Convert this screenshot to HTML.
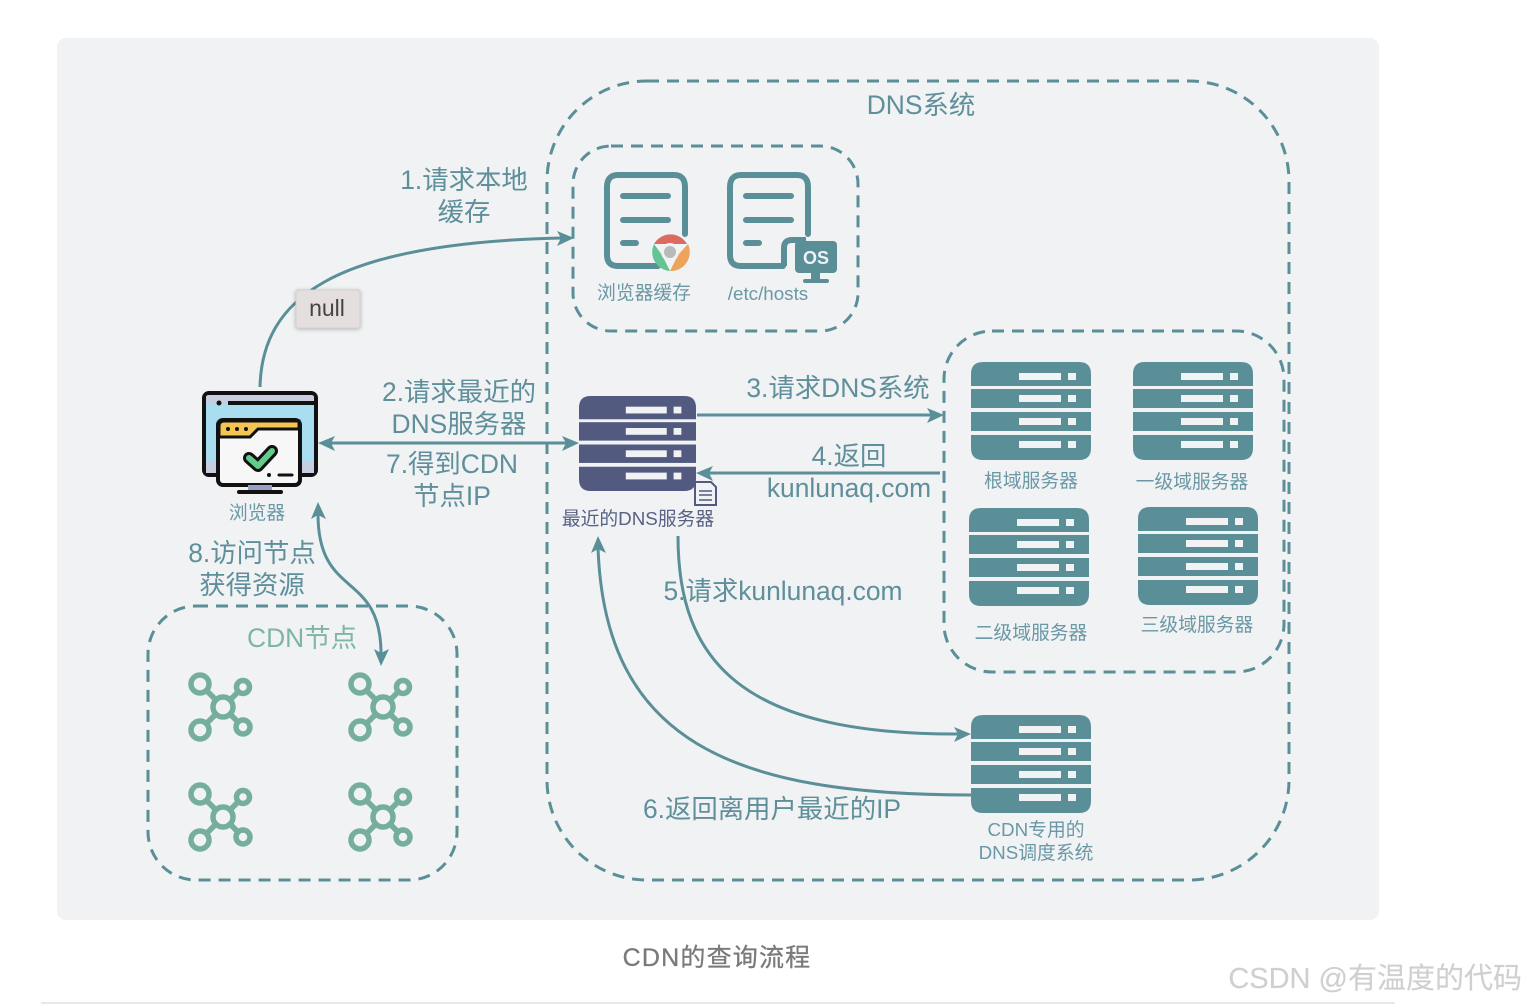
<!DOCTYPE html>
<html><head><meta charset="utf-8">
<style>
html,body{margin:0;padding:0;background:#fff;width:1526px;height:1004px;overflow:hidden}
svg{display:block}
text{font-family:"Liberation Sans","Noto Sans CJK SC",sans-serif}
.l{font-size:26.4px;fill:#5f8f9a;text-anchor:middle}
.s{font-size:18.8px;fill:#6a98a5;text-anchor:middle}
.d{fill:none;stroke:#5b8f98;stroke-width:3;stroke-dasharray:12 8}
.c{fill:none;stroke:#5b8f98;stroke-width:3}
.ic{fill:none;stroke:#5b8f98;stroke-width:6;stroke-linecap:round;stroke-linejoin:round}
</style></head>
<body>
<svg width="1526" height="1004" viewBox="0 0 1526 1004" xmlns="http://www.w3.org/2000/svg">
<defs>
<g id="sv">
<path d="M0 24V12Q0 0 12 0H108Q120 0 120 12V24Z"/><rect y="27" width="120" height="19"/><rect y="50" width="120" height="19"/><path d="M0 73H120V86Q120 98 108 98H12Q0 98 0 86Z"/>
<g fill="#f0f2f4"><rect x="48" y="11" width="42" height="7"/><rect x="97" y="11" width="8" height="7"/><rect x="48" y="33" width="42" height="7"/><rect x="97" y="33" width="8" height="7"/><rect x="48" y="56" width="42" height="7"/><rect x="97" y="56" width="8" height="7"/><rect x="48" y="79" width="42" height="7"/><rect x="97" y="79" width="8" height="7"/></g>
</g>
<g id="node2" fill="none" stroke="#75ae9c" stroke-width="5.500">
<circle r="10"/>
<circle cx="-23" cy="-23" r="9"/>
<circle cx="20" cy="-20" r="6.500"/>
<circle cx="-23" cy="23" r="9"/>
<circle cx="20" cy="20" r="7"/>
<path d="M-16 -16L-8 -8M15 -15L8 -8M-16 16L-8 8M15 15L8 8"/>
</g>
</defs>
<rect x="57" y="38" width="1322" height="882" rx="9" fill="#f0f2f4"/>

<!-- dashed boxes -->
<rect class="d" x="547" y="81" width="742" height="799" rx="100"/>
<rect class="d" x="573" y="146" width="285" height="185" rx="38"/>
<rect class="d" x="944" y="331" width="340" height="341" rx="48"/>
<rect class="d" x="148" y="606" width="309" height="274" rx="48"/>

<!-- doc icons -->
<path class="ic" d="M658 266H618Q607 266 607 255V187Q607 175 618 175H674Q685 175 685 187V234"/>
<path class="ic" d="M623 196H668M623 220H668M623 243H636"/>
<path class="ic" d="M783 266H741Q730 266 730 255V187Q730 175 741 175H797Q808 175 808 187V234"/>
<path class="ic" d="M746 196H791M746 220H791M746 243H759"/>
<!-- chrome -->
<path d="M654 244A19 19 0 0 1 687 244L670 244Z" fill="#db6a60"/>
<path d="M688 244A19 19 0 0 1 670 271L678 255Z" fill="#eda35c"/>
<path d="M654 244A19 19 0 0 0 670 271L662 255Z" fill="#64c493"/>
<circle cx="670" cy="252" r="9" fill="#f0f2f4"/><circle cx="670" cy="252" r="6" fill="#b9b9b9"/>
<!-- OS monitor -->
<path d="M784 266V248Q784 240 792 240H803V266" fill="none" stroke="#5b8f98" stroke-width="6"/>
<rect x="795" y="241" width="42" height="32" rx="4" fill="#5b8f98"/>
<rect x="811" y="273" width="9" height="6" fill="#5b8f98"/><rect x="803" y="279" width="26" height="4" rx="2" fill="#5b8f98"/>
<text x="816" y="264" font-size="18" font-weight="700" fill="#f0f2f4" text-anchor="middle">OS</text>

<!-- browser icon -->
<rect x="204" y="393" width="112" height="82" rx="5" fill="#a9def0" stroke="#111" stroke-width="4"/>
<path d="M206 403V397Q206 395 209 395H311Q314 395 314 397V403Z" fill="#c9cde0"/>
<rect x="206" y="461" width="15" height="12" fill="#c9cde0"/><rect x="299" y="461" width="15" height="12" fill="#c9cde0"/>
<circle cx="219" cy="403" r="2.500" fill="#111"/><path d="M228 403H314" stroke="#111" stroke-width="4"/>
<rect x="218" y="420" width="82" height="65" rx="5" fill="#f7f7f7" stroke="#111" stroke-width="4"/>
<path d="M219 437V426Q219 421 224 421H299V429H258L250 437Z" fill="#f4c552" stroke="#111" stroke-width="3"/>
<circle cx="228" cy="429" r="2" fill="#111"/><circle cx="237" cy="429" r="2" fill="#111"/><circle cx="246" cy="429" r="2" fill="#111"/>
<path d="M249 458L258 466L272 451" fill="none" stroke="#111" stroke-width="12" stroke-linecap="round" stroke-linejoin="round"/>
<path d="M249 458L258 466L272 451" fill="none" stroke="#63cb8b" stroke-width="6" stroke-linecap="round" stroke-linejoin="round"/>
<circle cx="269" cy="475" r="2" fill="#111"/><path d="M279 475H292" stroke="#111" stroke-width="3" stroke-linecap="round"/>
<rect x="248" y="485" width="24" height="7" fill="#9a9fc4"/><path d="M239 492H281" stroke="#111" stroke-width="4" stroke-linecap="round"/>

<!-- servers -->
<use href="#sv" transform="translate(579 396) scale(.975 .97)" fill="#525b7f"/>
<use href="#sv" x="971" y="362" fill="#5b8f98"/>
<use href="#sv" x="1133" y="362" fill="#5b8f98"/>
<use href="#sv" x="969" y="508" fill="#5b8f98"/>
<use href="#sv" x="1138" y="507" fill="#5b8f98"/>
<use href="#sv" x="971" y="715" fill="#5b8f98"/>
<!-- small doc -->
<path d="M695 482H711L716 487V505H695Z" fill="#f0f2f4" stroke="#525b7f" stroke-width="2"/>
<path d="M699 491H712M699 495H712M699 500H712" stroke="#525b7f" stroke-width="1.500"/>

<!-- CDN nodes -->
<use href="#node2" x="223" y="707"/>
<use href="#node2" x="383" y="707"/>
<use href="#node2" x="223" y="817"/>
<use href="#node2" x="383" y="817"/>

<!-- connectors -->
<path class="c" d="M260 387C262 300 330 243 562 238"/>
<path d="M574 238L557 231L561 238L557 246Z" fill="#5b8f98"/>
<path class="c" d="M330 443H568"/>
<path d="M318 443L335 436L331 443L335 451Z" fill="#5b8f98"/>
<path d="M579 443L562 436L566 443L562 451Z" fill="#5b8f98"/>
<path class="c" d="M697 415H932"/>
<path d="M944 415L927 408L931 415L927 423Z" fill="#5b8f98"/>
<path class="c" d="M940 473H708"/>
<path d="M696 473L713 466L709 473L713 481Z" fill="#5b8f98"/>
<path class="c" d="M678 536C678 660 740 735 960 734"/>
<path d="M971 734L954 727L958 734L954 742Z" fill="#5b8f98"/>
<path class="c" d="M971 795C730 795 605 740 598 548"/>
<path d="M598 536L591 553L598 549L606 553Z" fill="#5b8f98"/>
<path class="c" d="M318 514C318 600 381 570 381 654"/>
<path d="M318 502L311 519L318 515L326 519Z" fill="#5b8f98"/>
<path d="M381 666L374 649L381 653L389 649Z" fill="#5b8f98"/>

<!-- null -->
<rect x="296" y="290" width="64" height="38" rx="2" fill="#e4dfde" stroke="#d5d1d0" stroke-width="1" style="filter:drop-shadow(0 1px 2px rgba(0,0,0,.25))"/>
<text x="327" y="316" font-size="23" fill="#444" text-anchor="middle">null</text>

<!-- labels -->
<text class="l" x="921" y="114">DNS系统</text>
<text class="l" x="464" y="189">1.请求本地</text>
<text class="l" x="464" y="221">缓存</text>
<text class="l" x="459" y="401">2.请求最近的</text>
<text class="l" x="459" y="433">DNS服务器</text>
<text class="l" x="452" y="473">7.得到CDN</text>
<text class="l" x="452" y="505">节点IP</text>
<text class="l" x="252" y="562">8.访问节点</text>
<text class="l" x="252" y="594">获得资源</text>
<text class="l" x="302" y="647" style="fill:#7fb5a2">CDN节点</text>
<text class="l" x="838" y="397">3.请求DNS系统</text>
<text class="l" x="849" y="465">4.返回</text>
<text class="l" x="849" y="497">kunlunaq.com</text>
<text class="l" x="783" y="600">5.请求kunlunaq.com</text>
<text class="l" x="772" y="818">6.返回离用户最近的IP</text>

<text class="s" x="644" y="299">浏览器缓存</text>
<text class="s" x="768" y="300">/etc/hosts</text>
<text class="s" x="257" y="519">浏览器</text>
<text class="s" x="638" y="525" style="fill:#596285">最近的DNS服务器</text>
<text class="s" x="1031" y="487">根域服务器</text>
<text class="s" x="1192" y="488">一级域服务器</text>
<text class="s" x="1031" y="639">二级域服务器</text>
<text class="s" x="1197" y="631">三级域服务器</text>
<text class="s" x="1036" y="836">CDN专用的</text>
<text class="s" x="1036" y="859">DNS调度系统</text>

<text x="717" y="966" font-size="25" fill="#7a7a7a" text-anchor="middle" letter-spacing="1.200" stroke="#7a7a7a" stroke-width=".3">CDN的查询流程</text>
<text x="1522" y="988" font-size="29" fill="#cfcfcf" text-anchor="end" stroke="#d8d8d8" stroke-width=".2">CSDN @有温度的代码</text>
<rect x="41" y="1002" width="1354" height="2" fill="#e8e8e8"/>
</svg>
</body></html>
